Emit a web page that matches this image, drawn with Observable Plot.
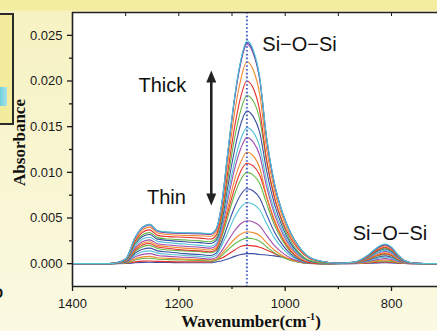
<!DOCTYPE html>
<html><head><meta charset="utf-8">
<script src="https://cdn.jsdelivr.net/npm/d3@7"></script>
<script src="https://cdn.jsdelivr.net/npm/@observablehq/plot@0.6"></script>
<style>
html,body{margin:0;padding:0;}
#wrap{position:relative;width:437px;height:331px;overflow:hidden;background:linear-gradient(to bottom,#f3ed9f 0px,#f3ed9f 10px,#f6f2c2 11px,#fbf9e2 331px);font-family:"Liberation Sans",Arial,sans-serif;}
#box{position:absolute;left:-3px;top:13px;width:13px;height:108px;border:2px solid #2a2a2a;background:#f2ec9c;}
#chip{position:absolute;left:1px;top:72px;width:7px;height:19px;background:linear-gradient(to right,#6fd0dc,#a8e4ea);}
#dd{position:absolute;left:-7px;top:286px;font:bold 14px/14px "Liberation Sans",Arial,sans-serif;color:#111;}
#wrap svg{position:absolute;left:0;top:0;}
</style></head><body><div id="wrap"><div id="box"><div id="chip"></div></div><div id="dd">D</div></div>
<script>
// wavenumber grid (cm^-1) at which absorbance was read
const wavenumber = [1400,1330,1300,1282,1268,1255,1240,1220,1190,1160,1140,1130,1120,1108,1095,1083,1072,1060,1048,1035,1020,1005,990,975,955,930,900,870,845,825,812,800,788,775,755,715];
// absorbance, units of 1e-4, thinnest (s01) to thickest (s19)
const s01 = [0,0,0.2,1,1.4,1.5,1.3,1.2,1,1,1,2,3,5,8,10,11,11,10,9.5,8.5,7,4.5,2,0.5,0,0,0.1,0.4,0.9,1,0.8,0.5,0.2,0,0];
const s02 = [0,0,0.4,2,2.8,3,2.5,2.2,2,2,2,4,6,10,15,19,20,19.5,18,15,11,7.5,4.5,2,0.3,0,0,0.2,0.8,1.7,2,1.7,0.9,0.3,0,0];
const s03 = [0,0,0.7,4,5.6,6,4.9,4.4,4,3.5,3,3.9,8.5,15,21.5,26,28,27.2,24.6,18.5,11.8,7,3.6,1.7,0.3,0,0.1,0.2,1.3,2.6,3,2.5,1.4,0.5,0.1,0];
const s04 = [0,0,1,5.4,7.4,8,6.5,5.8,5,4.5,4,4.9,10.5,18.5,27,32.5,35,34,30.8,23,14.7,8.8,4.6,2.1,0.4,0,0.1,0.3,1.7,3.4,4,3.4,1.8,0.6,0.1,0];
const s05 = [0,0,1.3,7.5,10.2,11,9,8,7,6,5,6.6,13.5,24.5,36,44,47,45.6,41.4,31,19.7,11.8,6.1,2.8,0.5,0,0.1,0.4,2.3,4.7,5.5,4.6,2.5,0.8,0.1,0];
const s06 = [0,0,1.7,9.5,13,14,11.5,10.3,9,8,7,9.4,19,34,51,62,67,65,59,44,28,16.8,8.7,4,0.7,0,0.1,0.6,2.9,6,7,5.9,3.2,1,0.1,0];
const s07 = [0,0,2,11.6,15.8,17,14,12.8,11,10,9,11.5,23,42,62,76,82,79.5,72,54,34.4,20.5,10.7,4.9,0.8,0,0.2,0.7,3.6,7.3,8.5,7.1,3.9,1.3,0.2,0];
const s08 = [0,0,2.4,13.6,18.6,20,16.6,15,14,13,12,14,28,51,76,92.5,100,97,88,66,42,25,13,6,1,0,0.2,0.8,4.2,8.6,10,8.4,4.6,1.5,0.2,0];
const s09 = [0,0,2.6,15,20.5,22,18.2,16.8,15,14,13,15.4,31,56,83,102,110,107,97,73,46,27.5,14.3,6.6,1.1,0,0.2,0.9,4.6,9.5,11,9.2,5.1,1.7,0.2,0];
const s10 = [0,0,2.9,16.3,22.3,24,20,18.6,17,16,15,17.4,32,61,92,112,122,118,105,74,48,29,16.5,8.5,2.4,0.6,0.2,1,5,10.3,12,10.1,5.5,1.8,0.2,0];
const s11 = [0,0,3.1,17.7,24.2,26,21.8,20.5,19,18,17,19.8,36,69,104,127,138,133,119,84,54,33,18.6,9.7,2.8,0.7,0.3,1.1,5.7,11.6,13.5,11.3,6.2,2,0.3,0];
const s12 = [0,0,3.5,19.7,27,29,24.4,23,21.5,20,19,22,39,75,112,137,149,144,128,91,58,36,20,10.4,3,0.7,0.3,1.2,6.1,12.5,14.5,12.2,6.7,2.2,0.3,0];
const s13 = [0,0,3.8,21.8,29.8,32,26.9,25.5,24,23,22,25.3,43,84,125,154,167,161,144,102,65,40,22.5,11.7,3.3,0.8,0.3,1.3,6.7,13.8,16,13.4,7.4,2.4,0.3,0];
const s14 = [0,0,4.1,23,31.6,34,28.5,27,26,25,24,27.7,48,92,138,169,184,178,158,112,72,44,25,13,3.7,0.9,0.3,1.4,7.1,14.6,17,14.3,7.8,2.6,0.3,0];
const s15 = [0,0,4.4,25,34.4,37,31,29.6,29,28,27,31,52,100,150,184,200,192,168,114,72,46,28,16,6,2,0.4,1.4,7.6,15.5,18,15.1,8.3,2.7,0.4,0];
const s16 = [0,0,4.8,27,37,40,33.6,32,31,30.5,30,34.4,57,110,166,203,221,212,186,126,80,51,31,17.7,6.6,2.2,0.4,1.6,8.2,16.8,19.5,16.4,9,2.9,0.4,0];
const s17 = [0,0,5,28.5,39,42,35.3,33.6,33,32.5,32,36.8,62,120,180,221,240,230,202,137,86,55,34,19.2,7.2,2.4,0.4,1.6,8.6,17.6,20.5,17.2,9.4,3.1,0.4,0];
const s18 = [0,0,5.2,29,40,43,36,34.3,33.8,33.3,32.8,37.6,63,121,182,223,242,232,203,138,87,56,34,19.4,7.3,2.4,0.5,1.7,8.8,18,21,17.6,9.7,3.2,0.4,0];
const s19 = [0,0,5.2,29,40,43,36,34.5,34,33.5,33,38,63,122,183,224,244,234,205,139,88,56,34,19.5,7.3,2.4,0.5,1.7,9.1,18.6,21.6,18.1,9.9,3.2,0.4,0];

const seriesNames = ["s01","s02","s03","s04","s05","s06","s07","s08","s09","s10","s11","s12","s13","s14","s15","s16","s17","s18","s19"];
const seriesValues = [s01,s02,s03,s04,s05,s06,s07,s08,s09,s10,s11,s12,s13,s14,s15,s16,s17,s18,s19];
const seriesColors = ["#3c4fa3","#e5312b","#67b84b","#f08a2c","#a24fae","#55c3d6","#3c4fa3","#67b84b","#e5312b","#f08a2c","#a24fae","#55c3d6","#3c4fa3","#67b84b","#e5312b","#f08a2c","#a24fae","#3c4fa3","#55c3d6"];

const yTicks = [0, 0.005, 0.01, 0.015, 0.02, 0.025];
const yMinorTicks = [0.0025, 0.0075, 0.0125, 0.0175, 0.0225];
const xTicks = [1400, 1200, 1000, 800];
const xMinorTicks = [1300, 1100, 900];
const xTopTicks = [1300, 1200, 1100, 1000, 900, 800];
const peakPosition = [1072];

const labelTexts = ["Si\u2212O\u2212Si", "Thick", "Thin", "Si\u2212O\u2212Si"];
const labelWavenumbers = [1043, 1276, 1260, 873];
const labelAbsorbances = [0.02404, 0.01948, 0.00726, 0.00324];
const arrowWavenumber = 1139;
const arrowTop = 0.02115;
const arrowBottom = 0.00637;

const rows = seriesNames.flatMap((s, i) => seriesValues[i].map((v, j) => ({series: s, w: wavenumber[j], a: v / 1e4})));
const labels = labelTexts.map((t, i) => ({t, w: labelWavenumbers[i], a: labelAbsorbances[i]}));

const headUp = {draw(ctx) { ctx.moveTo(0, 0); ctx.lineTo(5, 12); ctx.lineTo(-5, 12); ctx.closePath(); }};
const headDown = {draw(ctx) { ctx.moveTo(0, 0); ctx.lineTo(5, -12); ctx.lineTo(-5, -12); ctx.closePath(); }};

const chart = Plot.plot({
  width: 437, height: 331,
  marginLeft: 72, marginRight: 0, marginTop: 12, marginBottom: 45,
  style: {background: "transparent", fontFamily: "'Liberation Sans', Arial, sans-serif", color: "#1a1a1a", overflow: "hidden"},
  x: {domain: [1400, 713.5], axis: null},
  y: {domain: [-0.0025, 0.0275], axis: null},
  color: {domain: seriesNames, range: seriesColors},
  marks: [
    Plot.frame({fill: "white", stroke: null}),
    Plot.line(rows, {x: "w", y: "a", z: "series", stroke: "series", curve: "monotone-x", strokeWidth: 1.1}),
    Plot.ruleX(peakPosition, {stroke: "#4a64c8", strokeWidth: 2, strokeDasharray: "1.6,2.2"}),
    Plot.axisY(yTicks, {tickSize: 5, tickPadding: 5, tickFormat: d3.format(".3f"), fontSize: 13, label: null, strokeWidth: 1.3}),
    Plot.axisY(yMinorTicks, {tickSize: 3, tickFormat: () => "", label: null, strokeWidth: 1.3}),
    Plot.axisX(xTicks, {tickSize: 5, tickPadding: 7, tickFormat: d3.format("d"), fontSize: 13, label: null, strokeWidth: 1.3}),
    Plot.axisX(xMinorTicks, {tickSize: 3, tickFormat: () => "", label: null, strokeWidth: 1.3}),
    Plot.axisX(xTopTicks, {anchor: "top", tickSize: 3, dy: 3, tickFormat: () => "", label: null, strokeWidth: 1}),
    Plot.ruleX([1400], {stroke: "#222", strokeWidth: 1.6}),
    Plot.ruleY([-0.0025], {stroke: "#222", strokeWidth: 1.6}),
    Plot.ruleY([0.0275], {stroke: "#222", strokeWidth: 1.6}),
    Plot.ruleX([arrowWavenumber], {y1: arrowBottom + 0.001, y2: arrowTop - 0.001, stroke: "#222", strokeWidth: 2.6}),
    Plot.dot([arrowTop], {x: () => arrowWavenumber, y: d => d, symbol: headUp, fill: "#222", stroke: null, r: 5}),
    Plot.dot([arrowBottom], {x: () => arrowWavenumber, y: d => d, symbol: headDown, fill: "#222", stroke: null, r: 5}),
    Plot.text(labels, {x: "w", y: "a", text: "t", textAnchor: "start", fontSize: 20, fill: "#111"})
  ]
});

const svg = d3.select(chart);
svg.append("text")
  .attr("transform", "translate(25,142.5) rotate(-90)")
  .attr("text-anchor", "middle")
  .attr("font-family", "'Liberation Serif','Times New Roman',serif")
  .attr("font-weight", "bold").attr("font-size", 17).attr("fill", "#111")
  .text("Absorbance");
const xt = svg.append("text")
  .attr("x", 251).attr("y", 326.5)
  .attr("text-anchor", "middle")
  .attr("font-family", "'Liberation Serif','Times New Roman',serif")
  .attr("font-weight", "bold").attr("font-size", 17).attr("fill", "#111");
xt.append("tspan").text("Wavenumber(cm");
xt.append("tspan").attr("font-size", 10).attr("dy", -7).text("-1");
xt.append("tspan").attr("dy", 7).text(")");

document.getElementById("wrap").appendChild(chart);
</script>
</body></html>
